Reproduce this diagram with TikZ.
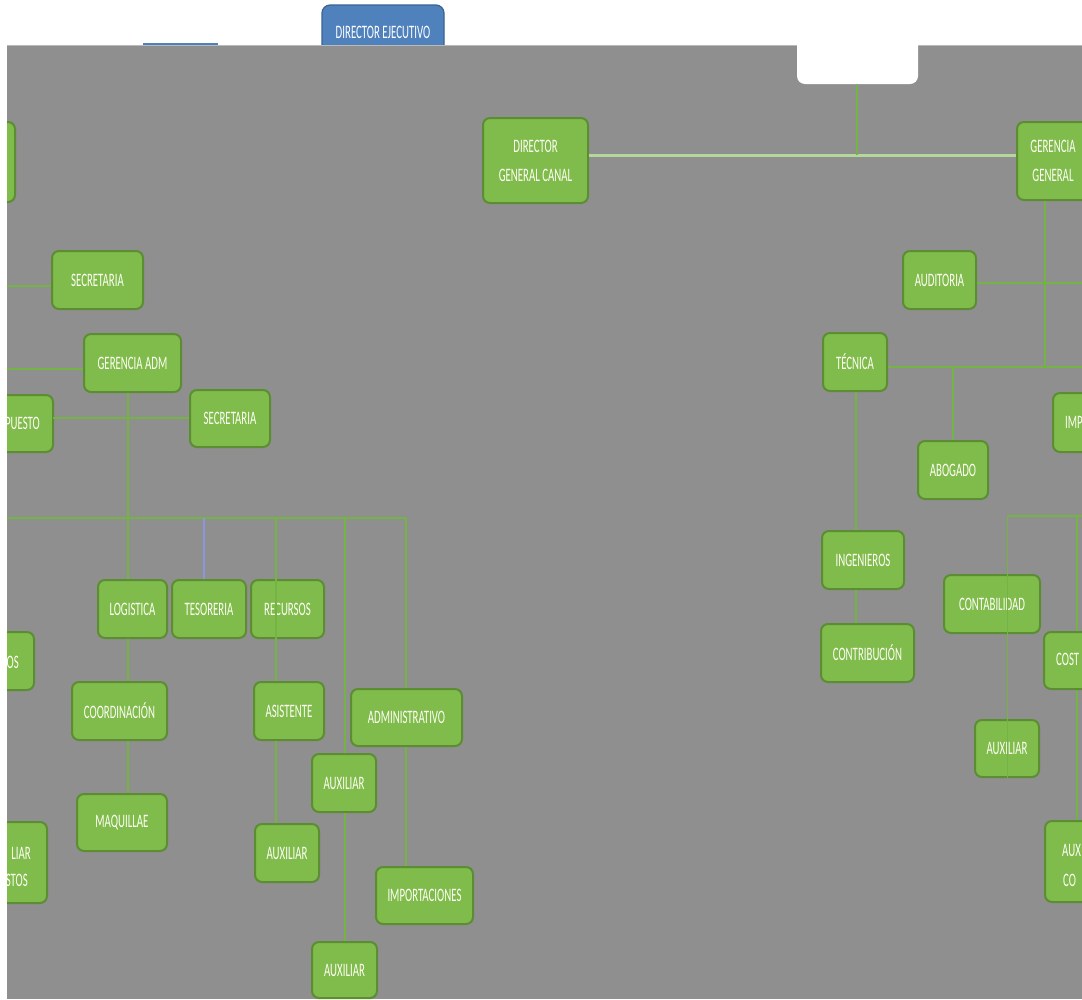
\documentclass[tikz,border=0pt]{standalone}
\usepackage{fontspec}
\newfontfamily\boxfont{Carlito}[FakeStretch=0.57]
\definecolor{bg}{HTML}{8F8F8F}
\definecolor{boxfill}{HTML}{7FBC4B}
\definecolor{boxdraw}{HTML}{5C8D33}
\definecolor{linegreen}{HTML}{74B444}
\definecolor{mainline}{HTML}{B3D89A}
\definecolor{blueF}{HTML}{4F81BD}
\definecolor{blueD}{HTML}{3A6393}
\definecolor{bluish}{HTML}{8C96DC}
\newcommand\bx[6]{%
  \pgfmathsetmacro\cxx{(#2+#4)/2}\pgfmathsetmacro\cyy{(#3+#5)/2}%
  \pgfmathsetmacro\ww{#4-#2}\pgfmathsetmacro\hh{#5-#3}%
  \node[box,minimum width=\ww pt,minimum height=\hh pt] (#1) at (\cxx,\cyy) {#6};}
\begin{document}
\begin{tikzpicture}[x=1pt,y=-1pt,
  box/.style={draw=boxdraw, line width=2pt, fill=boxfill, rounded corners=7pt,
    inner sep=0pt, font=\boxfont\fontsize{19}{29}\selectfont, text=white!96!yellow, align=center},
  txt/.style={inner sep=0pt, font=\boxfont\fontsize{19}{29}\selectfont, text=white!96!yellow},
  conn/.style={draw=linegreen, line width=1.1pt}]
\useasboundingbox (0,0) rectangle (1082,999);
\fill[white] (0,0) rectangle (1082,999);
% top blue box
\draw[fill=blueF, draw=blueD, line width=1.2pt, rounded corners=8pt] (322,5) rectangle (444,75);
\node[txt, text=white] (dej) at (383,32) {DIRECTOR EJECUTIVO};
\fill[blueF] (143,43) rectangle (218,46);
% gray canvas
\fill[bg] (7,45) rectangle (1082,999);
\draw[gray!55, line width=0.8pt] (7,45.4) -- (1082,45.4);
\fill[white, rounded corners=8pt] (797,25) rectangle (918,84);
\coordinate (wb) at (857,84);
\begin{scope}
\clip (7,45) rectangle (1082,999);
% ---- boxes (positions) ----
\bx{dgc}{483}{118}{588}{203}{DIRECTOR\\GENERAL CANAL}
\bx{gg}{1017}{122}{1089}{200}{GERENCIA\\GENERAL}
\bx{lb}{-60}{122}{15}{202}{}
\bx{sec1}{52}{251}{143}{309}{SECRETARIA}
\bx{gadm}{84}{334}{181}{392}{GERENCIA ADM}
\bx{pres}{-60}{395}{53}{452}{}
\node[txt, anchor=east] (prest) at (40,423) {PUESTO};
\bx{sec2}{190}{390}{270}{447}{SECRETARIA}
\bx{os}{-60}{632}{34}{690}{}
\node[txt, anchor=east] (ost) at (19,662) {OS};
\bx{auxl}{-60}{822}{47}{903}{}
\node[txt, anchor=east] (auxlt1) at (31,853) {LIAR};
\node[txt, anchor=east] (auxlt2) at (28,880) {STOS};
% lines drawn under boxes
\coordinate (jl) at (857,155);
\draw[mainline, line width=3pt] (dgc.east |- jl) -- (gg.west |- jl);
\draw[conn] (wb) -- (jl);
\coordinate (l1) at (0,286);
\draw[conn] (l1) -- (l1 -| sec1.west);
\coordinate (l2) at (0,369);
\draw[conn] (l2) -- (l2 -| gadm.west);
\coordinate (l3) at (53,418);
\draw[conn] (l3) -- (l3 -| sec2.west);
\coordinate (busA) at (0,518);
\coordinate (busB) at (406,518);
\draw[conn] (busA) -- (busB);
\coordinate (c128) at (128,518);
\coordinate (c204) at (204,518);
\coordinate (c276) at (276,518);
\coordinate (c345) at (345,518);
\draw[conn] (gadm.south -| c128) -- (c128);
\bx{log}{98}{580}{167}{638}{LOGISTICA}
\bx{tes}{172}{580}{246}{638}{TESORERIA}
\bx{coord}{72}{682}{167}{740}{COORDINACIÓN}
\bx{maq}{77}{794}{167}{851}{MAQUILLAE}
\bx{asis}{254}{682}{324}{740}{ASISTENTE}
\bx{aux1}{255}{824}{319}{882}{AUXILIAR}
\bx{aux2}{312}{754}{376}{812}{AUXILIAR}
\bx{aux3}{312}{942}{377}{998}{AUXILIAR}
\bx{adm}{351}{689}{462}{746}{ADMINISTRATIVO}
\bx{imp}{376}{867}{473}{924}{IMPORTACIONES}
\draw[conn] (c128) -- (log.north -| c128);
\draw[conn] (log.south -| c128) -- (coord.north -| c128);
\draw[conn] (coord.south -| c128) -- (maq.north -| c128);
\draw[draw=bluish, line width=1.1pt] (c204) -- (tes.north -| c204);
\draw[conn] (c345) -- (aux2.north -| c345);
\draw[conn] (aux2.south -| c345) -- (aux3.north -| c345);
\draw[conn] (busB) -- (adm.north -| busB);
\draw[conn] (adm.south -| busB) -- (imp.north -| busB);
\bx{rec}{251}{580}{324}{638}{RECURSOS}
\draw[conn] (c276) -- (asis.north -| c276);
\draw[conn] (asis.south -| c276) -- (aux1.north -| c276);
% ---- right side ----
\bx{aud}{903}{251}{976}{309}{AUDITORIA}
\bx{tec}{823}{333}{887}{391}{TÉCNICA}
\bx{abo}{918}{441}{988}{499}{ABOGADO}
\coordinate (r1) at (1082,283);
\coordinate (r2) at (1082,367);
\coordinate (v1) at (1045,367);
\coordinate (rb1) at (1007,516);
\coordinate (rb2) at (1082,516);
\coordinate (v2) at (1077,516);
\coordinate (v2e) at (1077,821);
\coordinate (v4) at (953,367);
\draw[conn] (gg.south -| v1) -- (v1);
\draw[conn] (r1) -- (aud.east |- r1);
\draw[conn] (r2) -- (tec.east |- r2);
\draw[conn] (v4) -- (abo.north -| v4);
\draw[conn] (rb1) -- (rb2);
\draw[conn] (v2) -- (v2e);
\bx{im}{1053}{393}{1110}{452}{}
\node[txt, anchor=west] (imt) at (1065,422) {IMP};
\bx{ing}{822}{531}{904}{589}{INGENIEROS}
\bx{contr}{821}{624}{914}{682}{CONTRIBUCIÓN}
\coordinate (t1) at (856,0);
\draw[conn] (tec.south -| t1) -- (ing.north -| t1);
\draw[conn] (ing.south -| t1) -- (contr.north -| t1);
\bx{cont}{944}{575}{1040}{633}{CONTABILIDAD}
\bx{cost}{1044}{632}{1110}{689}{}
\node[txt, anchor=west] (costt) at (1056,659) {COST};
\bx{aux4}{975}{720}{1039}{777}{AUXILIAR}
\bx{auxco}{1045}{821}{1110}{902}{}
\node[txt, anchor=west] (auxct1) at (1062,850) {AUX};
\node[txt, anchor=west] (auxct2) at (1063,880) {CO};
% lines drawn over boxes
\draw[conn, line width=0.8pt] (c276) -- (rec.south -| c276);
\draw[conn, line width=0.8pt] (rb1) -- (aux4.south -| rb1);
\end{scope}
\end{tikzpicture}
\end{document}
